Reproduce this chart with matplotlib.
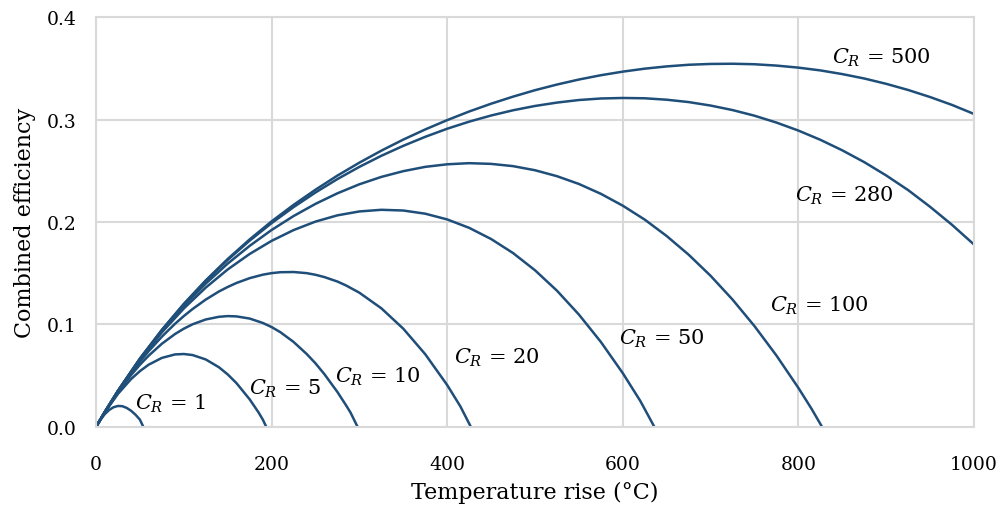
import matplotlib
matplotlib.use("Agg")
import matplotlib.pyplot as plt

# temperature rise (C) and combined efficiency
t_wide = [0, 10] + list(range(25, 1001, 25))
eff_500 = [0, 0.0147, 0.0353, 0.0667, 0.0948, 0.1201, 0.1430, 0.1639, 0.1830, 0.2006,
           0.2167, 0.2315, 0.2453, 0.2579, 0.2696, 0.2804, 0.2903, 0.2994, 0.3078, 0.3154,
           0.3223, 0.3286, 0.3341, 0.3390, 0.3432, 0.3467, 0.3496, 0.3518, 0.3534, 0.3542,
           0.3544, 0.3539, 0.3526, 0.3506, 0.3479, 0.3443, 0.3400, 0.3348, 0.3288, 0.3219,
           0.3142, 0.3054]
eff_280 = [0, 0.0146, 0.0353, 0.0666, 0.0945, 0.1197, 0.1424, 0.1630, 0.1818, 0.1989,
           0.2145, 0.2288, 0.2419, 0.2538, 0.2646, 0.2743, 0.2831, 0.2910, 0.2979, 0.3039,
           0.3090, 0.3132, 0.3165, 0.3190, 0.3205, 0.3210, 0.3207, 0.3193, 0.3170, 0.3136,
           0.3092, 0.3037, 0.2970, 0.2892, 0.2802, 0.2699, 0.2584, 0.2454, 0.2311, 0.2148,
           0.1972, 0.1780]

t_100 = [0, 10] + list(range(25, 801, 25)) + [815, 827]
eff_100 = [0, 0.0146, 0.0352, 0.0662, 0.0936, 0.1181, 0.1399, 0.1594, 0.1767, 0.1922,
           0.2058, 0.2177, 0.2280, 0.2368, 0.2440, 0.2496, 0.2538, 0.2563, 0.2574, 0.2567,
           0.2545, 0.2505, 0.2447, 0.2371, 0.2275, 0.2159, 0.2023, 0.1863, 0.1681, 0.1475,
           0.1243, 0.0984, 0.0697, 0.0381, 0.0177, 0]

t_50 = [0, 10] + list(range(25, 601, 25)) + [620, 636]
eff_50 = [0, 0.0146, 0.0350, 0.0656, 0.0923, 0.1156, 0.1360, 0.1537, 0.1688, 0.1816,
          0.1921, 0.2004, 0.2065, 0.2103, 0.2119, 0.2112, 0.2081, 0.2025, 0.1943, 0.1834,
          0.1697, 0.1529, 0.1330, 0.1097, 0.0830, 0.0525, 0.0253, 0]

t_20 = [0, 10, 25, 40, 50, 60, 75, 90, 100, 110, 125, 140, 150, 160, 175, 190, 200,
        210, 225, 240, 250, 260, 275, 285, 300, 325, 350, 375, 400, 415, 427]
eff_20 = [0, 0.0145, 0.0346, 0.0527, 0.0637, 0.0740, 0.0881, 0.1007, 0.1082, 0.1151,
          0.1243, 0.1322, 0.1366, 0.1405, 0.1452, 0.1486, 0.1501, 0.1510, 0.1512, 0.1501,
          0.1485, 0.1463, 0.1419, 0.1380, 0.1310, 0.1158, 0.0959, 0.0710, 0.0409, 0.0201, 0]

t_10 = [0, 10, 25, 40, 50, 60, 75, 90, 100, 110, 125, 140, 150, 160, 175, 190, 200,
        210, 225, 240, 250, 260, 275, 285, 290, 298]
eff_10 = [0, 0.0144, 0.0338, 0.0507, 0.0607, 0.0696, 0.0812, 0.0907, 0.0959, 0.1002,
          0.1049, 0.1075, 0.1082, 0.1079, 0.1058, 0.1015, 0.0975, 0.0925, 0.0830, 0.0712,
          0.0621, 0.0517, 0.0341, 0.0209, 0.0139, 0]

t_5 = [0, 10, 25, 40, 50, 60, 75, 90, 100, 110, 125, 140, 150, 160, 175, 185, 190, 194]
eff_5 = [0, 0.0142, 0.0323, 0.0468, 0.0545, 0.0608, 0.0674, 0.0708, 0.0712, 0.0702,
         0.0659, 0.0583, 0.0513, 0.0428, 0.0270, 0.0144, 0.0072, 0]

t_1 = [0, 5, 10, 15, 20, 25, 30, 35, 40, 45, 50, 54]
eff_1 = [0, 0.0070, 0.0125, 0.0166, 0.0193, 0.0205, 0.0203, 0.0186, 0.0158, 0.0120,
         0.0072, 0]

curves = [(t_wide, eff_500), (t_wide, eff_280), (t_100, eff_100), (t_50, eff_50),
          (t_20, eff_20), (t_10, eff_10), (t_5, eff_5), (t_1, eff_1)]

labels = ["500", "280", "100", "50", "20", "10", "5", "1"]
label_x = [838, 796, 768, 596, 408, 272, 174, 44]
label_y = [0.361, 0.226, 0.119, 0.087, 0.068, 0.050, 0.038, 0.024]

plt.rcParams["font.family"] = "DejaVu Serif"
plt.rcParams["mathtext.fontset"] = "dejavuserif"

line_col = "#1F4E79"
grid_col = "#D9D9D9"

fig = plt.figure(figsize=(10.03, 5.10), dpi=100)
ax = fig.add_axes([0.0957, 0.1608, 0.8754, 0.8039])

for t, e in curves:
    ax.plot(t, e, color=line_col, lw=1.8, solid_joinstyle="round")

for lab, lx, ly in zip(labels, label_x, label_y):
    ax.text(lx, ly, r"$C_R$ = " + lab, fontsize=15, ha="left", va="center")

ax.set_xlim(0, 1000)
ax.set_ylim(0, 0.4)
ax.set_xticks(range(0, 1001, 200))
ax.set_yticks([0, 0.1, 0.2, 0.3, 0.4])
ax.set_yticklabels(["0.0", "0.1", "0.2", "0.3", "0.4"])
ax.tick_params(length=0, labelsize=13.5)
ax.tick_params(axis="x", pad=20)
ax.tick_params(axis="y", pad=14)
ax.grid(True, color=grid_col, lw=1.5)
ax.set_axisbelow(True)
for s in ax.spines.values():
    s.set_color(grid_col)
    s.set_linewidth(1.5)

ax.set_xlabel("Temperature rise (°C)", fontsize=16, labelpad=6)
ax.set_ylabel("Combined efficiency", fontsize=16, labelpad=8)

plt.savefig("out.png", dpi=100)
plt.close()
